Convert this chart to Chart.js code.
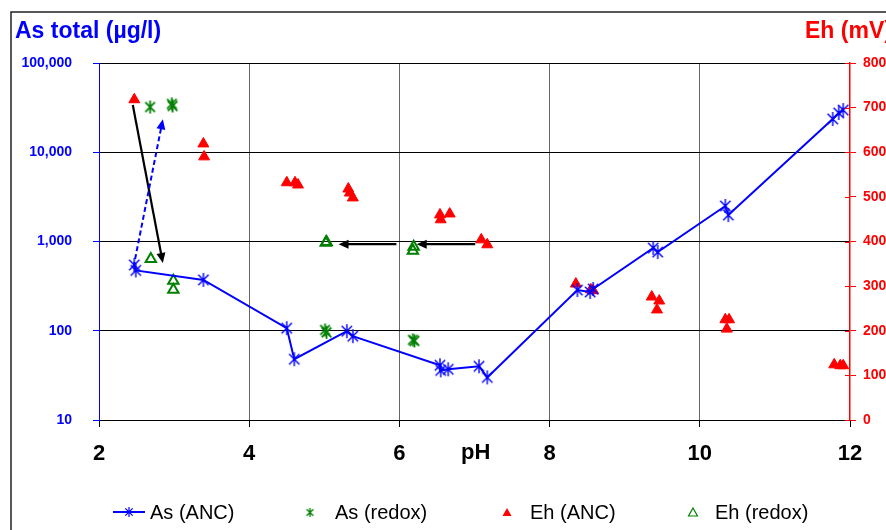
<!DOCTYPE html>
<html>
<head>
<meta charset="utf-8">
<script src="https://cdn.jsdelivr.net/npm/chart.js@4.4.0/dist/chart.umd.min.js"></script>
<style>
  html, body { margin: 0; padding: 0; background: #fff; }
  #wrap { position: relative; width: 886px; height: 530px; }
</style>
</head>
<body>
<div id="wrap"><canvas id="chart" width="886" height="530"></canvas></div>
<script>
// As (ANC) : pH / As total (µg/l)
const asAncPH  = [2.47, 2.49, 3.39, 4.50, 4.60, 5.30, 5.38, 6.54, 6.55, 6.65, 7.06, 7.17, 8.37, 8.54, 8.58, 9.38, 9.44, 10.34, 10.38, 11.77, 11.85, 11.91];
const asAncVal = [546, 474, 371, 107, 48, 99, 87, 41, 36, 37, 40, 30, 286, 272, 294, 845, 762, 2500, 1980, 23600, 27500, 29700];

// As (redox)
const asRedoxPH  = [2.68, 2.97, 2.98, 5.01, 5.03, 6.18, 6.20];
const asRedoxVal = [32100, 34800, 33000, 102, 96, 79, 77];

// Eh (ANC) : pH / Eh (mV)
const ehAncPH  = [2.47, 3.39, 3.40, 4.50, 4.61, 4.65, 5.32, 5.34, 5.38, 6.54, 6.55, 6.67, 7.09, 7.17, 8.35, 8.55, 8.58, 9.36, 9.46, 9.43, 10.34, 10.39, 10.36, 11.79, 11.87, 11.91];
const ehAncVal = [718, 619, 590, 532, 532, 527, 518, 509, 498, 460, 449, 462, 404, 393, 305, 292, 290, 276, 267, 247, 225, 225, 204, 124, 122, 122];

// Eh (redox)
const ehRedoxPH  = [2.69, 2.99, 2.99, 5.02, 5.03, 6.19, 6.18];
const ehRedoxVal = [361, 312, 292, 397, 399, 388, 379];

// arrows : start / end in data units
const arrows = [
  { axis: 'y2', from: [2.45, 706], to: [2.85, 352], kind: 'black' },
  { axis: 'y',  from: [2.46, 520], to: [2.85, 23400], kind: 'blueDash' },
  { axis: 'y2', from: [5.96, 394], to: [5.19, 394], kind: 'black' },
  { axis: 'y2', from: [7.01, 394], to: [6.23, 394], kind: 'black' }
];

// tick labels
const phTicks = [2, 4, 6, 8, 10, 12];
const asTicks = [10, 100, 1000, 10000, 100000];
const ehTicks = [0, 100, 200, 300, 400, 500, 600, 700, 800];

const FONT = "'Liberation Sans', Arial, sans-serif";
const BLUE = '#0000ff', GREEN = '#008000', RED = '#ff0000';

function pts(xs, ys) {
  return xs.map((x, i) => ({ x: x, y: ys[i] }));
}

// asterisk marker (X + vertical stroke)
function asterisk(color, size, lw) {
  const c = document.createElement('canvas');
  c.width = size; c.height = size;
  const g = c.getContext('2d');
  const m = size / 2, r = size / 2 - 1, d = r * 0.74;
  g.strokeStyle = color;
  g.lineWidth = lw;
  g.beginPath();
  g.moveTo(m, m - r); g.lineTo(m, m + r);
  g.moveTo(m - d, m - d); g.lineTo(m + d, m + d);
  g.moveTo(m + d, m - d); g.lineTo(m - d, m + d);
  g.stroke();
  return c;
}

const starBlue = asterisk(BLUE, 16, 1.4);
const starGreen = asterisk(GREEN, 15, 1.8);

function arrowHead(ctx, x1, y1, x2, y2, color) {
  const a = Math.atan2(y2 - y1, x2 - x1);
  const len = 10, w = 4.5;
  ctx.fillStyle = color;
  ctx.beginPath();
  ctx.moveTo(x2, y2);
  ctx.lineTo(x2 - len * Math.cos(a) + w * Math.sin(a), y2 - len * Math.sin(a) - w * Math.cos(a));
  ctx.lineTo(x2 - len * Math.cos(a) - w * Math.sin(a), y2 - len * Math.sin(a) + w * Math.cos(a));
  ctx.closePath();
  ctx.fill();
}

const decor = {
  id: 'decor',
  beforeDatasetsDraw(chart) {
    const ctx = chart.ctx;
    const xs = chart.scales.x;
    ctx.save();
    arrows.forEach(a => {
      const ys = chart.scales[a.axis];
      const x1 = xs.getPixelForValue(a.from[0]), y1 = ys.getPixelForValue(a.from[1]);
      const x2 = xs.getPixelForValue(a.to[0]), y2 = ys.getPixelForValue(a.to[1]);
      const color = a.kind === 'blueDash' ? BLUE : '#000';
      const ang = Math.atan2(y2 - y1, x2 - x1);
      ctx.strokeStyle = color;
      ctx.lineWidth = a.kind === 'blueDash' ? 2 : 2.2;
      ctx.setLineDash(a.kind === 'blueDash' ? [5, 3] : []);
      ctx.beginPath();
      ctx.moveTo(x1, y1);
      ctx.lineTo(x2 - 8 * Math.cos(ang), y2 - 8 * Math.sin(ang));
      ctx.stroke();
      ctx.setLineDash([]);
      arrowHead(ctx, x1, y1, x2, y2, color);
    });
    ctx.restore();
  },
  afterDraw(chart) {
    const ctx = chart.ctx;
    const area = chart.chartArea;
    ctx.save();

    // outer frame
    ctx.strokeStyle = '#222';
    ctx.lineWidth = 1.5;
    ctx.strokeRect(11, 12, 900, 600);

    // inner half of right axis ticks
    ctx.strokeStyle = RED;
    ctx.lineWidth = 1;
    ehTicks.forEach(v => {
      const y = Math.round(chart.scales.y2.getPixelForValue(v)) + 0.5;
      ctx.beginPath();
      ctx.moveTo(area.right - 5, y);
      ctx.lineTo(area.right, y);
      ctx.stroke();
    });

    // axis titles
    ctx.textBaseline = 'alphabetic';
    ctx.textAlign = 'left';
    ctx.font = 'bold 23px ' + FONT;
    ctx.fillStyle = BLUE;
    ctx.fillText('As total (µg/l)', 15, 38);
    ctx.fillStyle = RED;
    ctx.fillText('Eh (mV)', 805, 38);
    ctx.font = 'bold 22px ' + FONT;
    ctx.fillStyle = '#000';
    ctx.fillText('pH', 461, 459);

    // legend
    const ly = 512;
    ctx.font = '20px ' + FONT;
    ctx.strokeStyle = BLUE;
    ctx.lineWidth = 2;
    ctx.beginPath();
    ctx.moveTo(113, ly); ctx.lineTo(145, ly);
    ctx.stroke();
    ctx.drawImage(asterisk(BLUE, 12, 1.2), 129 - 6, ly - 6);
    ctx.drawImage(asterisk(GREEN, 11, 1.3), 310 - 5.5, ly - 5);
    ctx.fillStyle = RED;
    ctx.beginPath();
    ctx.moveTo(507, ly - 4); ctx.lineTo(511.5, ly + 4); ctx.lineTo(502.5, ly + 4);
    ctx.closePath(); ctx.fill();
    ctx.strokeStyle = GREEN;
    ctx.lineWidth = 1.2;
    ctx.beginPath();
    ctx.moveTo(693, ly - 4); ctx.lineTo(697.5, ly + 4); ctx.lineTo(688.5, ly + 4);
    ctx.closePath(); ctx.stroke();

    ctx.fillStyle = '#000';
    const labels = chart.data.datasets.map(d => d.label);
    const lx = [150, 335, 530, 715];
    labels.forEach((t, i) => ctx.fillText(t, lx[i], 519));

    ctx.restore();
  }
};

new Chart(document.getElementById('chart').getContext('2d'), {
  type: 'scatter',
  data: {
    datasets: [
      {
        label: 'As (ANC)',
        data: pts(asAncPH, asAncVal),
        yAxisID: 'y',
        showLine: true,
        borderColor: BLUE,
        borderWidth: 2,
        pointStyle: starBlue,
        pointRadius: 7,
        tension: 0
      },
      {
        label: 'As (redox)',
        data: pts(asRedoxPH, asRedoxVal),
        yAxisID: 'y',
        pointStyle: starGreen,
        pointRadius: 7
      },
      {
        label: 'Eh (ANC)',
        data: pts(ehAncPH, ehAncVal),
        yAxisID: 'y2',
        pointStyle: 'triangle',
        pointRadius: 6.3,
        backgroundColor: RED,
        borderColor: RED,
        borderWidth: 1
      },
      {
        label: 'Eh (redox)',
        data: pts(ehRedoxPH, ehRedoxVal),
        yAxisID: 'y2',
        pointStyle: 'triangle',
        pointRadius: 6,
        backgroundColor: 'rgba(0,0,0,0)',
        borderColor: GREEN,
        borderWidth: 2
      }
    ]
  },
  options: {
    responsive: false,
    animation: false,
    layout: { padding: { top: 63, left: 0, right: 0, bottom: 0 } },
    plugins: {
      legend: { display: false },
      tooltip: { enabled: false }
    },
    scales: {
      x: {
        type: 'linear',
        min: 2,
        max: 12,
        afterFit: s => { s.height = 110; },
        afterBuildTicks: s => { s.ticks = phTicks.map(v => ({ value: v })); },
        grid: {
          color: c => (c.tick && (c.tick.value === 2 || c.tick.value === 12)) ? 'rgba(0,0,0,0)' : '#666',
          tickColor: '#000',
          tickLength: 7,
          lineWidth: 1
        },
        border: { color: '#000', width: 1 },
        ticks: {
          color: '#000',
          font: { family: FONT, size: 22, weight: 'bold' },
          padding: 14,
          maxRotation: 0
        }
      },
      y: {
        type: 'logarithmic',
        position: 'left',
        min: 10,
        max: 100000,
        afterFit: s => { s.width = 99; },
        afterBuildTicks: s => { s.ticks = asTicks.map(v => ({ value: v })); },
        grid: { color: '#000', tickColor: BLUE, tickLength: 6, lineWidth: 1 },
        border: { color: BLUE, width: 1 },
        ticks: {
          color: BLUE,
          font: { family: FONT, size: 14, weight: 'bold' },
          padding: 21,
          callback: v => Number(v).toLocaleString('en-US')
        }
      },
      y2: {
        type: 'linear',
        position: 'right',
        min: 0,
        max: 800,
        afterFit: s => { s.width = 36; },
        afterBuildTicks: s => { s.ticks = ehTicks.map(v => ({ value: v })); },
        grid: { drawOnChartArea: false, tickColor: RED, tickLength: 6 },
        border: { color: RED, width: 1.5 },
        ticks: {
          color: RED,
          font: { family: FONT, size: 14, weight: 'bold' },
          padding: 7
        }
      }
    }
  },
  plugins: [decor]
});
</script>
</body>
</html>
